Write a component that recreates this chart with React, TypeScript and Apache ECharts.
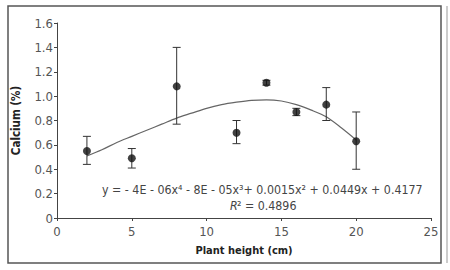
import React, { useEffect, useRef } from "react";
import * as echarts from "echarts";

const plantHeight = [2, 5, 8, 12, 14, 16, 18, 20];
const calciumMean = [0.55, 0.49, 1.08, 0.70, 1.11, 0.87, 0.93, 0.63];
const calciumLow = [0.44, 0.41, 0.77, 0.61, 1.09, 0.84, 0.80, 0.40];
const calciumHigh = [0.67, 0.57, 1.40, 0.80, 1.13, 0.90, 1.07, 0.87];

const trendX = [2, 3, 4, 5, 6, 7, 8, 9, 10, 11, 12, 13, 14, 15, 16, 17, 18, 19, 20];
const trendY = [0.51, 0.56, 0.62, 0.67, 0.72, 0.77, 0.82, 0.86, 0.90, 0.93, 0.95, 0.965, 0.97, 0.96, 0.93, 0.885, 0.83, 0.74, 0.64];

const xTicks = [0, 5, 10, 15, 20, 25];
const yTicks = [0, 0.2, 0.4, 0.6, 0.8, 1.0, 1.2, 1.4, 1.6];

const equationText = "y = - 4E - 06x\u2074 - 8E - 05x\u00b3+ 0.0015x\u00b2 + 0.0449x + 0.4177";
const r2Label = "R";
const r2Value = "\u00b2 = 0.4896";

const FONT = "'Liberation Sans Narrow', 'Arial Narrow', 'DejaVu Sans Condensed', 'Liberation Sans', Arial, sans-serif";

export default function App() {
  const ref = useRef<HTMLDivElement>(null);
  useEffect(() => {
    if (!ref.current) return;
    const chart = echarts.init(ref.current, null, { renderer: "svg" });
    const errData = plantHeight.map((x, i) => [x, calciumLow[i], calciumHigh[i]]);
    chart.setOption({
      animation: false,
      backgroundColor: "#ffffff",
      grid: { left: 57, right: 19, top: 23, bottom: 52 },
      xAxis: {
        type: "value",
        min: 0,
        max: 25,
        interval: 5,
        name: "Plant height (cm)",
        nameLocation: "middle",
        nameGap: 27,
        nameTextStyle: { fontFamily: FONT, fontWeight: "bold", fontSize: 11, color: "#222" },
        axisLine: { lineStyle: { color: "#444", width: 1 } },
        axisTick: { show: true, length: 3, lineStyle: { color: "#444" } },
        axisLabel: {
          fontFamily: FONT, fontSize: 13, color: "#555", margin: 7,
          formatter: (v: number) => (xTicks.includes(v) ? String(v) : ""),
        },
        splitLine: { show: false },
      },
      yAxis: {
        type: "value",
        min: 0,
        max: 1.6,
        interval: 0.2,
        name: "Calcium (%)",
        nameLocation: "middle",
        nameGap: 35,
        nameTextStyle: { fontFamily: FONT, fontWeight: "bold", fontSize: 11.5, color: "#222" },
        axisLine: { show: true, lineStyle: { color: "#444", width: 1 } },
        axisTick: { show: true, length: 3, lineStyle: { color: "#444" } },
        axisLabel: {
          fontFamily: FONT, fontSize: 13, color: "#555", margin: 4,
          formatter: (v: number) => {
            const t = yTicks.find((y) => Math.abs(y - v) < 1e-6);
            if (t === undefined) return "";
            return t === 0 ? "0" : t.toFixed(1);
          },
        },
        splitLine: { show: false },
      },
      series: [
        {
          type: "line",
          data: trendX.map((x, i) => [x, trendY[i]]),
          smooth: 0.3,
          symbol: "none",
          lineStyle: { color: "#666", width: 1.2 },
          z: 1,
        },
        {
          type: "custom",
          data: errData,
          renderItem: (params: any, api: any) => {
            const x = api.value(0);
            const lo = api.coord([x, api.value(1)]);
            const hi = api.coord([x, api.value(2)]);
            const w = 4;
            const st = { stroke: "#333", lineWidth: 1 };
            return {
              type: "group",
              children: [
                { type: "line", shape: { x1: lo[0], y1: lo[1], x2: hi[0], y2: hi[1] }, style: st },
                { type: "line", shape: { x1: lo[0] - w, y1: lo[1], x2: lo[0] + w, y2: lo[1] }, style: st },
                { type: "line", shape: { x1: hi[0] - w, y1: hi[1], x2: hi[0] + w, y2: hi[1] }, style: st },
              ],
            };
          },
          z: 2,
        },
        {
          type: "scatter",
          data: plantHeight.map((x, i) => [x, calciumMean[i]]),
          symbol: "circle",
          symbolSize: 8,
          itemStyle: { color: "#111" },
          z: 3,
        },
      ],
      graphic: [
        {
          type: "rect",
          shape: { x: 8, y: 6, width: 433, height: 257 },
          style: { fill: "none", stroke: "#555", lineWidth: 1.5 },
          z: -1,
        },
        {
          type: "line",
          shape: { x1: 447, y1: 6, x2: 447, y2: 263 },
          style: { stroke: "#ccc", lineWidth: 2 },
        },
        {
          type: "text",
          x: 102,
          y: 190,
          style: { text: equationText, font: "12.3px " + FONT, fill: "#444", textVerticalAlign: "middle" },
        },
        {
          type: "text",
          x: 230,
          y: 206,
          style: { text: r2Label, font: "italic 12.3px " + FONT, fill: "#444", textVerticalAlign: "middle" },
        },
        {
          type: "text",
          x: 237,
          y: 206,
          style: { text: r2Value, font: "12.3px " + FONT, fill: "#444", textVerticalAlign: "middle" },
        },
      ],
    });
    return () => chart.dispose();
  }, []);
  return (
    <div
      ref={ref}
      style={{ position: "fixed", left: 0, top: 0, width: 450, height: 270 }}
    />
  );
}
